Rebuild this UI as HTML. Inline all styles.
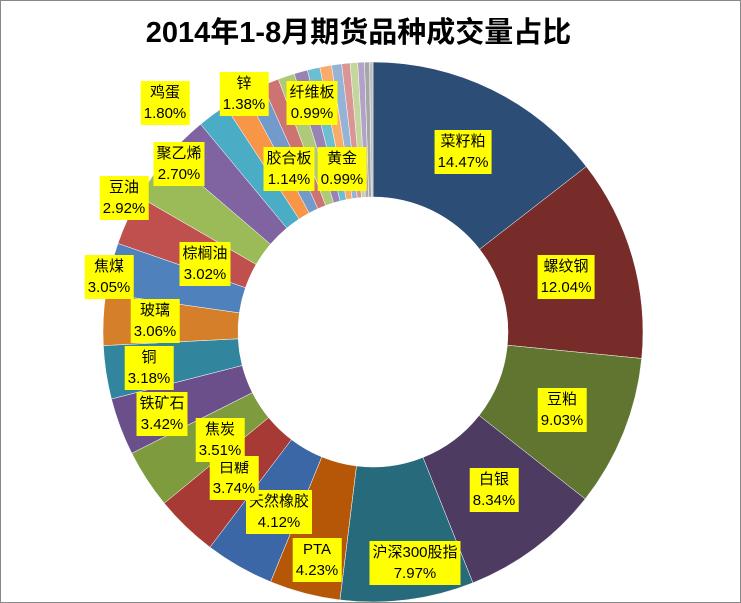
<!DOCTYPE html>
<html><head><meta charset="utf-8"><style>
body{margin:0;background:#fff;}
#c{position:relative;width:739px;height:601px;border:1px solid #888;overflow:hidden;font-family:"Liberation Sans","Noto Sans CJK SC",sans-serif;}
.t{position:absolute;left:0;width:715px;top:8px;text-align:center;font-size:29px;font-weight:bold;}
.l{position:absolute;background:#ffff00;font-size:15px;line-height:21px;text-align:center;padding:1px 3px;transform:translate(-50%,0);white-space:nowrap;}
svg{position:absolute;left:0;top:0}
</style></head><body><div id="c">
<svg id="s" width="739" height="601"></svg>
<div class="t">2014年1-8月期货品种成交量占比</div>
</div>
<script>
var d=[[14.47,'#2C4D75','菜籽粕',462,129],[12.04,'#772C2A','螺纹钢',565,254],[9.03,'#5F7530','豆粕',561,387],[8.34,'#4D3B62','白银',493,467],[7.97,'#276A7C','沪深300股指',414,540],
[4.23,'#B65708','PTA',316,537],[4.12,'#3C67A6','天然橡胶',278,489],[3.74,'#A83A36','白糖',233,455],[3.51,'#7E9B3E','焦炭',219,417],[3.42,'#6A4F8A','铁矿石',161,391],
[3.18,'#31859C','铜',148,345],[3.06,'#D67F2A','玻璃',154,298],[3.05,'#4F81BD','焦煤',108,254],[3.02,'#C0504D','棕榈油',204,241],[2.92,'#9BBB59','豆油',123,175],
[2.70,'#8064A2','聚乙烯',178,141],[1.80,'#4BACC6','鸡蛋',164,80],[1.38,'#F79646','锌',243,71],[1.14,'#729ACA','胶合板',288,146],[0.99,'#CD7371','纤维板',311,80],
[0.99,'#AFC97A','黄金',341,146],[0.8,'#9983B5'],[0.75,'#6FBDD1'],[0.7,'#F9AB6B'],[0.6,'#95B3D7'],[0.5,'#D99694'],[0.45,'#C3D69B'],[0.4,'#B3A2C7'],[0.3,'#A6A6A6'],[0.2,'#BFBFBF']];
var tot=0;d.forEach(function(e){tot+=e[0]});
var cx=372,cy=331,R=270,r=135,a=0,s='',c=document.getElementById('c');
function p(rad,ang){return [cx+rad*Math.sin(ang),cy-rad*Math.cos(ang)];}
d.forEach(function(e){var a0=a,a1=a+e[0]/tot*2*Math.PI;a=a1;var lg=(a1-a0>Math.PI)?1:0;
var p1=p(R,a0),p2=p(R,a1),p3=p(r,a1),p4=p(r,a0);
s+='<path d="M'+p1+' A'+R+','+R+' 0 '+lg+' 1 '+p2+' L'+p3+' A'+r+','+r+' 0 '+lg+' 0 '+p4+'Z" fill="'+e[1]+'" stroke="#fff" stroke-width="0.5"/>';
if(e[2]){var dv=document.createElement('div');dv.className='l';dv.style.left=e[3]+'px';dv.style.top=e[4]+'px';dv.innerHTML=e[2]+'<br>'+e[0].toFixed(2)+'%';c.appendChild(dv);}
});
document.getElementById('s').innerHTML=s;
</script>
</body></html>
